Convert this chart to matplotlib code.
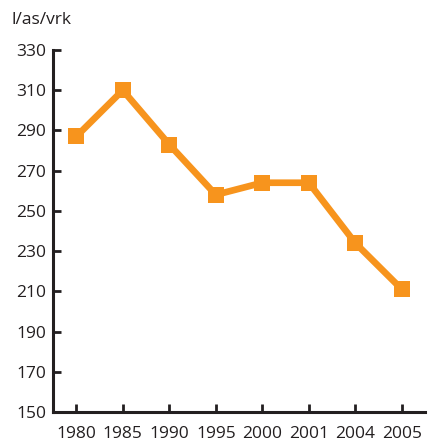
import matplotlib
matplotlib.use("Agg")
import matplotlib.pyplot as plt

years = ['1980', '1985', '1990', '1995', '2000', '2001', '2004', '2005']
values = [287, 310, 283, 258, 264, 264, 234, 211]
yticks = [150, 170, 190, 210, 230, 250, 270, 290, 310, 330]
unit = 'l/as/vrk'

plt.rcParams['font.family'] = ['Open Sans', 'DejaVu Sans']
dark = '#231f20'
orange = '#f7941d'

fig = plt.figure(figsize=(4.36, 4.41), dpi=100)
ax = fig.add_axes([0.1216, 0.0658, 0.8534, 0.8208])

x = list(range(len(years)))
ax.plot(x, values, color=orange, lw=4.8, marker='s', markersize=11.5,
        markeredgewidth=0, solid_joinstyle='miter', zorder=3, clip_on=False)

ax.set_xlim(-0.5, 7.5)
ax.set_ylim(150, 330)
ax.set_xticks(x)
ax.set_xticklabels(years)
ax.set_yticks(yticks)

for s in ['top', 'right']:
    ax.spines[s].set_visible(False)
for s in ['left', 'bottom']:
    ax.spines[s].set_linewidth(2.2)
    ax.spines[s].set_color(dark)

ax.tick_params(axis='both', direction='in', length=6, width=2, color=dark,
               labelsize=12.5, labelcolor=dark)
ax.tick_params(axis='y', pad=5)
ax.tick_params(axis='x', pad=10)

fig.text(0.027, 0.955, unit, fontsize=12.5, color=dark, va='center', ha='left')

fig.savefig('out.png', dpi=100)
